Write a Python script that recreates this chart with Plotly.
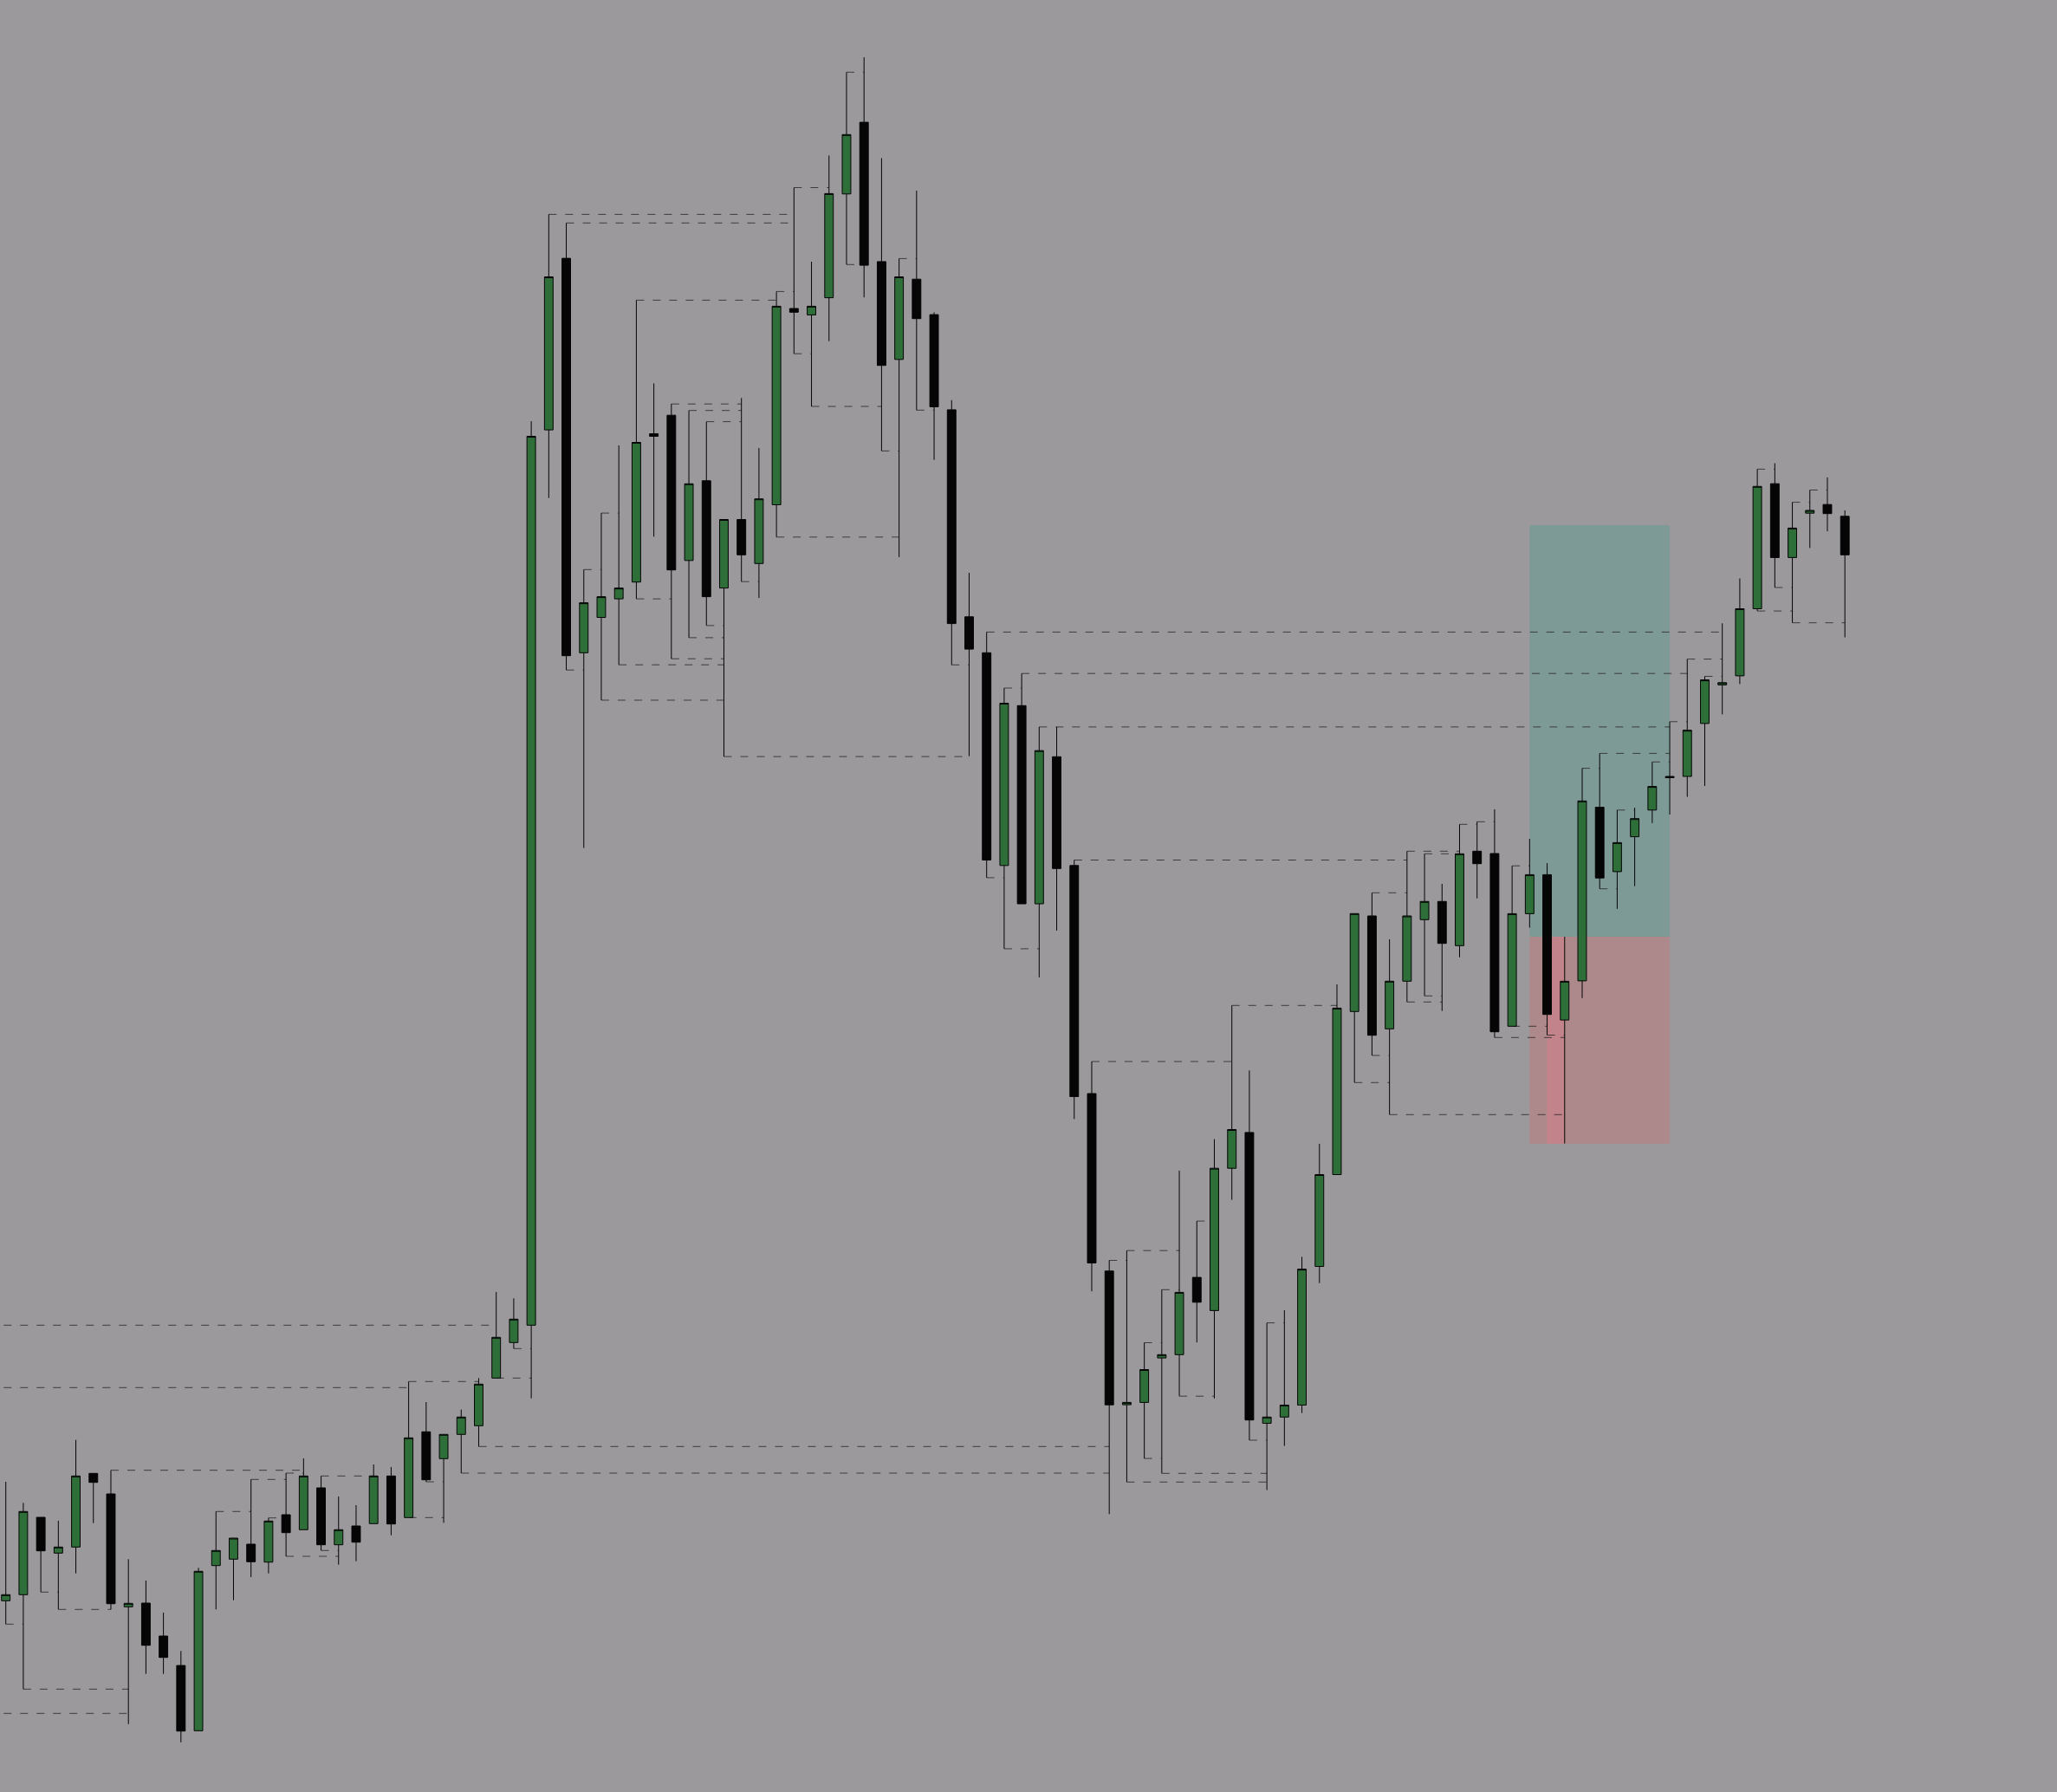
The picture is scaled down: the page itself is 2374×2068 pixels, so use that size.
import plotly.graph_objects as go

# ---------------- data ----------------
opens = [252.7, 259.7, 349, 307.7, 314.7, 399.7, 376, 245.7, 250, 212,
         178, 102.7, 293.3, 300.7, 318, 297.3, 352, 334.7, 383, 317.3,
         339, 341.7, 396.7, 348.7, 447.7, 416.7, 444.7, 454.7, 509.7, 550.7,
         570.7, 1603.9, 1801.9, 1346.7, 1387.5, 1408.9, 1428.3, 1599.4, 1620.8, 1453.2,
         1545.2, 1421.4, 1500.5, 1449.7, 1517.5, 1744, 1736.6, 1756.4, 1876.2, 1958.9,
         1798.1, 1685.2, 1777.8, 1736.9, 1627.1, 1388.2, 1346.7, 1101.2, 1285.7, 1057,
         1226.7, 1101.2, 838, 633.2, 478.9, 481.6, 532.9, 536.7, 625.9, 587.6,
         751.8, 793.1, 457.5, 464.7, 478.5, 638.5, 744.5, 932.7, 1043, 912.7,
         967.7, 1038.7, 1059.7, 1008.7, 1117.7, 1115, 915.7, 1045.6, 1090.6, 922.9,
         968.1, 1168.4, 1094.1, 1134.4, 1165.2, 1204, 1204, 1265.1, 1309.6, 1320.1,
         1397.5, 1541.8, 1456.6, 1507.8, 1517.8, 1504.2]

highs = [390, 365.7, 349, 345, 438.3, 399.7, 403.3, 300.7, 276, 239,
         194.7, 290.7, 355.7, 325, 392.7, 348.3, 400, 417, 396.7, 373,
         363, 410, 407, 505.7, 482, 444.7, 473.3, 509.7, 609, 601.7,
         1613.9, 1852.6, 1842.7, 1442.7, 1507.9, 1586, 1753.6, 1657.6, 1633.8, 1626.3,
         1613.4, 1500.5, 1640.7, 1583, 1763.6, 1883.5, 1798, 1920.6, 2016.7, 2033.9,
         1917.5, 1801.6, 1880, 1739.6, 1638.2, 1439, 1370.6, 1306, 1322.8, 1261.1,
         1261.1, 1107.5, 875, 645.5, 656.8, 550.5, 611.7, 749.1, 690.9, 785.4,
         939.7, 864.7, 573.4, 588, 649.6, 780.1, 964, 1045.7, 1069.7, 1016,
         1117.7, 1114.7, 1080, 1148.7, 1151.7, 1166, 1100.8, 1131.9, 1103.9, 1018.9,
         1213.4, 1230.6, 1165.2, 1167.9, 1220.7, 1267.2, 1339.4, 1319.5, 1380.7, 1432.5,
         1558.6, 1565.4, 1520.4, 1534.5, 1549.1, 1511]

lows = [225.7, 150.7, 262.7, 242.7, 284.3, 342.3, 242.7, 110.3, 168.3, 168.3,
        89.3, 102.7, 242.7, 253.3, 280, 284.3, 304, 334.7, 310.7, 294.3,
        298.3, 341.7, 328.3, 348.7, 390, 342.7, 400, 430.7, 509.7, 543.7,
        486.3, 1525.3, 1326.8, 1121.4, 1292, 1332.8, 1408.9, 1480.6, 1339.8, 1364.1,
        1378.1, 1226.9, 1428.8, 1409.9, 1480.2, 1691.8, 1631, 1706.3, 1794.7, 1756.8,
        1579.6, 1457.1, 1626.7, 1569.3, 1332.7, 1227.4, 1087.1, 1005.1, 1057, 972.1,
        1026.1, 808.6, 609.8, 352.7, 389.7, 416.9, 399.7, 488.8, 550.8, 486.2,
        715.4, 438, 380.5, 431.4, 469.3, 619.3, 744.5, 850.7, 882, 813.7,
        943.7, 950.7, 933.3, 995.3, 1063.3, 902.7, 915.7, 1029.5, 905.5, 780.4,
        948.2, 1074.3, 1051.2, 1077.4, 1150.1, 1160, 1180.4, 1193, 1275.6, 1310.6,
        1394.9, 1422, 1381.3, 1467.6, 1486.9, 1364.5]

closes = [259.7, 355.7, 310.3, 314.7, 396.7, 389.3, 249.3, 249.7, 201.3, 187.3,
          102.3, 286.7, 310.7, 325, 297.7, 344.7, 331.3, 396.7, 317.3, 334.7,
          320.3, 396.7, 341.3, 440.7, 392.3, 444.7, 464.7, 502.7, 556.7, 577.7,
          1596.5, 1780.5, 1343.3, 1404.4, 1411.4, 1421.4, 1589.5, 1596.5, 1442.3, 1541.7,
          1411.4, 1500.5, 1459.7, 1524.3, 1746.6, 1739.7, 1746.6, 1876.6, 1944.7, 1793.9,
          1678.3, 1780.5, 1732.3, 1630.5, 1380.4, 1350.9, 1107.5, 1288.5, 1057, 1233.8,
          1097.7, 834.6, 642.5, 478.8, 481.6, 519.5, 536.7, 608.6, 597.2, 751.8,
          796.5, 461.3, 464.7, 478.5, 635.4, 744.5, 936.6, 1045.7, 905.3, 967.7,
          1043, 1059.7, 1011.3, 1114.7, 1103.3, 909.3, 1045.6, 1090.6, 929.3, 967.6,
          1175.7, 1086.8, 1127.6, 1155.3, 1192.4, 1202.5, 1257.3, 1315.4, 1312.2, 1397.5,
          1538.7, 1456.6, 1490.6, 1511, 1507.3, 1459.7]

# liquidity levels: pivot candle, side of the candle (H = high, L = low), candle that swept it
level_pivot = [0, 1, 2, 3, 6, 12, 14, 15, 16, 16, 18, 18, 23, 23, 24, 26, 27, 28, 29,
               31, 32, 32, 33, 34, 34, 35, 36, 36, 38, 38, 39, 39, 40, 40, 41, 42, 44, 44,
               45, 45, 46, 48, 48, 50, 51, 52,
               54, 56, 56, 57, 57, 58, 59, 61, 62, 63, 64, 64, 65, 65, 66, 66, 67, 68, 70,
               71, 72,
               77, 78, 78, 79, 80, 80, 81, 81, 83, 84, 85, 86, 86, 88, 90, 91, 91, 92, 94,
               95, 96, 97, 100, 100, 101, 102, 102, 103]
level_side = ["L", "L", "L", "L", "H", "H", "H", "H", "H", "L", "H", "L", "H", "L", "L", "L", "L", "L", "L",
              "H", "H", "L", "H", "H", "L", "L", "H", "L", "H", "L", "H", "L", "H", "L", "L", "L", "H", "L",
              "H", "L", "L", "H", "L", "L", "H", "L",
              "L", "H", "L", "H", "L", "H", "H", "H", "H", "H", "H", "L", "H", "L", "H", "L", "L", "H", "H",
              "L", "H",
              "L", "H", "L", "L", "H", "L", "H", "L", "H", "H", "L", "H", "L", "L", "H", "H", "L", "H", "H",
              "H", "H", "H", "H", "L", "L", "H", "L", "H"]
level_end = [1, 7, 3, 6, 17, 14, 16, 16, 17, 19, 21, 19, 27, 25, 25, 63, 63, 30, 30,
             45, 45, 33, 34, 35, 41, 41, 44, 38, 42, 41, 42, 41, 42, 41, 55, 43, 45, 51,
             47, 46, 50, 49, 49, 51, 52, 53,
             55, 98, 57, 58, 59, 96, 95, 80, 70, 64, 67, 72, 66, 66, 67, 72, 69, 69, 76,
             72, 73,
             79, 80, 79, 89, 83, 82, 83, 82, 84, 85, 89, 87, 88, 89, 91, 95, 92, 93, 95,
             96, 98, 98, 101, 102, 102, 103, 105, 104]

# levels whose pivot candle lies left of the visible window
offscreen_price = [570.7, 498.7, 122.7]
offscreen_end = [28, 23, 7]

# long-position tool: entry, take-profit, stop-loss and its time span (candle indices)
pos_entry = 1019
pos_target = 1494
pos_stop = 780
pos_start = 87
pos_end = 95

# ---------------- styling ----------------
BG = "#9b999c"
GREEN = "#2e6e38"
BLACK = "#050505"
LEVEL_COLOR = "rgba(45,45,45,0.85)"

x = list(range(len(opens)))

fig = go.Figure()
fig.add_trace(go.Candlestick(
    x=x, open=opens, high=highs, low=lows, close=closes,
    increasing=dict(line=dict(color=BLACK, width=1), fillcolor=GREEN),
    decreasing=dict(line=dict(color=BLACK, width=1), fillcolor=BLACK),
    whiskerwidth=0,
    showlegend=False,
    hoverinfo="skip",
))

shapes = []
# position tool
shapes.append(dict(type="rect", xref="x", yref="y", x0=pos_start, x1=pos_end,
                   y0=pos_entry, y1=pos_target, fillcolor="#7e9a97",
                   line=dict(width=0), layer="below"))
shapes.append(dict(type="rect", xref="x", yref="y", x0=pos_start, x1=pos_end,
                   y0=pos_stop, y1=pos_entry, fillcolor="#ae898c",
                   line=dict(width=0), layer="below"))
shapes.append(dict(type="rect", xref="x", yref="y", x0=pos_start + 1, x1=pos_start + 2,
                   y0=pos_stop, y1=pos_entry, fillcolor="#c2838a",
                   line=dict(width=0), layer="below"))

for p, s, e in zip(level_pivot, level_side, level_end):
    lvl = highs[p] if s == "H" else lows[p]
    shapes.append(dict(type="line", xref="x", yref="y", x0=p, x1=e, y0=lvl, y1=lvl,
                       line=dict(color=LEVEL_COLOR, width=1, dash="9px,10px"),
                       layer="below"))
for lvl, e in zip(offscreen_price, offscreen_end):
    shapes.append(dict(type="line", xref="x", yref="y", x0=-2, x1=e, y0=lvl, y1=lvl,
                       line=dict(color=LEVEL_COLOR, width=1, dash="9px,10px"),
                       layer="below"))

fig.update_layout(
    width=2374, height=2068,
    margin=dict(l=0, r=0, t=0, b=0, pad=0),
    paper_bgcolor=BG, plot_bgcolor=BG,
    shapes=shapes,
    showlegend=False,
    boxgap=0.3,
    xaxis=dict(range=[-0.331, 117.11], visible=False, showgrid=False,
               zeroline=False, rangeslider=dict(visible=False), fixedrange=True),
    yaxis=dict(range=[32, 2100], visible=False, showgrid=False,
               zeroline=False, fixedrange=True),
)

page_fix = ("document.body.style.margin='0';document.body.style.padding='0';"
            "document.body.style.background='" + BG + "';"
            "document.documentElement.style.overflow='hidden';")

fig.write_html("out.html", config={"displayModeBar": False}, post_script=page_fix)
